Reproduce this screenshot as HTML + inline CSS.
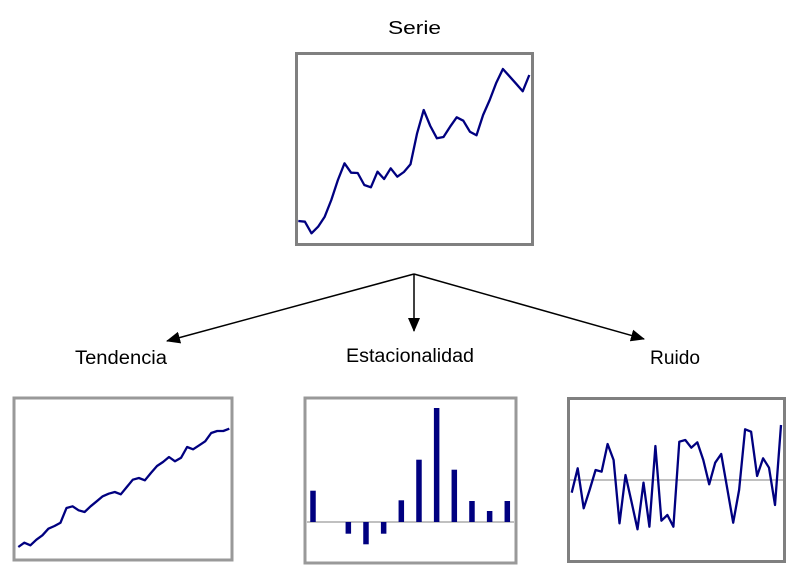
<!DOCTYPE html>
<html><head><meta charset="utf-8"><style>
html,body{margin:0;padding:0;background:#fff;width:808px;height:575px;overflow:hidden}
svg{display:block;font-family:"Liberation Sans",sans-serif}
</style></head><body>
<svg id="c" width="808" height="575" viewBox="0 0 808 575">
<defs><marker id="ah" markerWidth="14" markerHeight="12" refX="13" refY="6" orient="auto" markerUnits="userSpaceOnUse"><path d="M0,0 L14,6 L0,12 z" fill="#000"/></marker></defs>
<text x="388" y="34" font-size="18" textLength="53" lengthAdjust="spacingAndGlyphs">Serie</text>
<text x="75" y="364" font-size="19" textLength="92" lengthAdjust="spacingAndGlyphs">Tendencia</text>
<text x="346" y="362" font-size="19" textLength="128" lengthAdjust="spacingAndGlyphs">Estacionalidad</text>
<text x="650" y="364" font-size="19" textLength="50" lengthAdjust="spacingAndGlyphs">Ruido</text>
<g stroke="#000" stroke-width="1.5" fill="none">
<line x1="414" y1="274" x2="167" y2="341" marker-end="url(#ah)"/>
<line x1="414" y1="274" x2="414" y2="331" marker-end="url(#ah)"/>
<line x1="414" y1="274" x2="644" y2="339" marker-end="url(#ah)"/>
</g>
<rect x="296.5" y="53.5" width="236" height="191" fill="#fff" stroke="#808080" stroke-width="3"/>
<rect x="14" y="398" width="218" height="162" fill="#fff" stroke="#999" stroke-width="3"/>
<rect x="305" y="398" width="211" height="165" fill="#fff" stroke="#999" stroke-width="3"/>
<rect x="568.5" y="398.5" width="216" height="163" fill="#fff" stroke="#808080" stroke-width="3"/>
<line x1="307" y1="522" x2="514" y2="522" stroke="#808080" stroke-width="1"/>
<line x1="570" y1="480" x2="783" y2="480" stroke="#808080" stroke-width="1"/>
</svg>
<script>
const serieValues=[24,23.3,11.7,18.3,28.3,45,65,81.7,72.3,72,60,57.7,73.3,66,76.7,68.3,73,80.7,111.7,135,119,106.7,108,118.3,127.7,124.3,113.3,109.7,130,145,162.3,176,168.7,161.3,153.7,170];
const trendValues=[13,17.3,14.7,20.3,24.7,31.3,34,37.3,52,53.7,49.7,48,53.7,58.7,63.7,66.3,68,65.7,73,80.3,82,79.7,87,94,98,103,98.7,102.3,113,110.7,114.7,118.7,127,129,129,131.3];
const seasonMonths=[1,2,3,4,5,6,7,8,9,10,11,12];
const seasonValues=[31.3,0,-11.7,-22.3,-11.7,21.7,62.3,114,52.3,21,11,21];
const noiseValues=[-12.7,11.7,-28.3,-10,10,8.3,36,20,-43.3,5,-21.7,-49.3,-2.7,-46.7,34,-40.7,-35,-46.7,38.3,40,32.3,37.7,20,-4.3,17.3,26,-8.3,-42.7,-10,50.7,48.3,4,21.7,12.3,-25,55];
const svg=document.getElementById('c');
const NS='http://www.w3.org/2000/svg';
function line(vals,x0,x1,yBase,name){
  const step=(x1-x0)/(vals.length-1);
  const pts=vals.map((v,i)=>(x0+i*step).toFixed(1)+','+(yBase-v).toFixed(1)).join(' ');
  const p=document.createElementNS(NS,'polyline');
  p.setAttribute('points',pts);p.setAttribute('fill','none');p.setAttribute('stroke','#000080');p.setAttribute('stroke-width','2.3');p.setAttribute('stroke-linejoin','round');
  
  
  svg.appendChild(p);
}
line(serieValues,298.3,529.3,245,'serie-line');
line(trendValues,18.3,229.3,560,'tendencia-line');
line(noiseValues,571.7,781,480,'ruido-line');
const bx0=313,bstep=(507.3-313)/11,base=522;
seasonMonths.forEach((m,i)=>{
  const v=seasonValues[i];if(v===0)return;
  const r=document.createElementNS(NS,'rect');
  const x=bx0+(m-1)*bstep;
  r.setAttribute('x',x-2.75);r.setAttribute('width',5.5);
  r.setAttribute('y',v>0?base-v:base);r.setAttribute('height',Math.abs(v));
  r.setAttribute('fill','#000080');
  
  
  svg.appendChild(r);
});
</script>
</body></html>
